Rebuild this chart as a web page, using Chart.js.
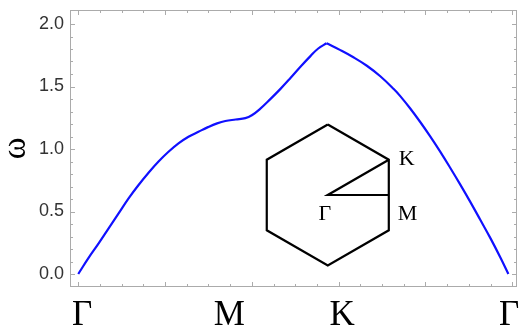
<!DOCTYPE html>
<html>
<head>
<meta charset="utf-8">
<script src="https://cdn.jsdelivr.net/npm/chart.js@4.4.1/dist/chart.umd.min.js"></script>
<style>
  html, body { margin: 0; padding: 0; background: #fff; }
  #chart { display: block; }
</style>
</head>
<body>
<canvas id="chart" width="520" height="330"></canvas>
<script>
// dispersion along Γ–M–K (k in units of 1/a)
const kGMK = [0, 0.23, 0.47, 0.70, 0.93, 1.16, 1.39, 1.62, 1.85, 2.08, 2.31, 2.54, 2.77, 2.99, 3.20, 3.39, 3.628, 3.85, 4.00, 4.19, 4.42, 4.66, 4.89, 5.12, 5.35, 5.53, 5.722];
const wGMK = [0, 0.125, 0.245, 0.365, 0.485, 0.605, 0.712, 0.81, 0.90, 0.978, 1.045, 1.098, 1.138, 1.175, 1.205, 1.224, 1.236, 1.247, 1.27, 1.321, 1.397, 1.481, 1.568, 1.658, 1.743, 1.804, 1.846];

// dispersion along K–Γ
const kKG = [5.722, 6.04, 6.34, 6.65, 6.96, 7.27, 7.42, 7.65, 7.88, 8.11, 8.34, 8.57, 8.80, 9.03, 9.26, 9.50, 9.73, 9.911];
const wKG = [1.846, 1.791, 1.734, 1.666, 1.582, 1.48, 1.423, 1.324, 1.216, 1.101, 0.979, 0.85, 0.717, 0.579, 0.436, 0.285, 0.13, 0];

// high-symmetry labels under the axis
const pathLabels = ['Γ', 'M', 'K', 'Γ'];
const pathLabelK = [0.09, 3.48, 6.08, 9.93];

const omegaTicks = [0, 0.5, 1, 1.5, 2];

// Brillouin zone sketch, in the same k / ω coordinates
const bzHexK = [5.75, 7.156, 7.156, 5.75, 4.344, 4.344, 5.75];
const bzHexW = [1.196, 0.914, 0.35, 0.068, 0.35, 0.914, 1.196];
const bzPathK = [7.156, 5.75, 7.156];
const bzPathW = [0.914, 0.632, 0.632];
const bzLabels = ['K', 'Γ', 'M'];

const toPoints = (xs, ys) => xs.map((x, i) => ({ x, y: ys[i] }));

// Mathematica-style frame with inward ticks on all four sides
const frameTicks = {
  id: 'frameTicks',
  beforeDatasetsDraw(chart) {
    const { ctx, chartArea: a, scales: { x, y } } = chart;
    ctx.save();
    ctx.strokeStyle = '#ababab';
    ctx.lineWidth = 1;
    ctx.strokeRect(a.left + 0.5, a.top + 0.5, a.right - a.left - 1, a.bottom - a.top - 1);
    ctx.beginPath();
    for (let i = 0; i <= 20; i++) {
      const px = Math.round(x.getPixelForValue(i * 0.5)) + 0.5;
      const len = i % 4 === 0 ? 5 : 3;
      ctx.moveTo(px, a.bottom); ctx.lineTo(px, a.bottom - len);
      ctx.moveTo(px, a.top); ctx.lineTo(px, a.top + len);
    }
    for (let i = 0; i <= 21; i++) {
      const py = Math.round(y.getPixelForValue(i * 0.1)) + 0.5;
      if (py < a.top + 2) continue;
      const len = i % 5 === 0 ? 5 : 3;
      ctx.moveTo(a.left, py); ctx.lineTo(a.left + len, py);
      ctx.moveTo(a.right, py); ctx.lineTo(a.right - len, py);
    }
    ctx.stroke();
    ctx.restore();
  }
};

// K, Γ, M next to the inset path points
const bzText = {
  id: 'bzText',
  afterDatasetsDraw(chart) {
    const { ctx, scales: { x, y } } = chart;
    const place = [
      { dx: 10, dy: 5, align: 'left' },
      { dx: -3, dy: 25, align: 'center' },
      { dx: 9, dy: 25, align: 'left' }
    ];
    ctx.save();
    ctx.fillStyle = '#000';
    ctx.font = '22px "Liberation Serif"';
    ctx.textBaseline = 'alphabetic';
    bzLabels.forEach((t, i) => {
      ctx.textAlign = place[i].align;
      ctx.fillText(t, x.getPixelForValue(bzPathK[i]) + place[i].dx, y.getPixelForValue(bzPathW[i]) + place[i].dy);
    });
    ctx.restore();
  }
};

const bandLine = {
  showLine: true,
  borderColor: '#1010ff',
  borderWidth: 2.2,
  pointRadius: 0,
  tension: 0.4
};

const bzLine = {
  showLine: true,
  borderColor: '#000',
  borderWidth: 2.2,
  borderJoinStyle: 'miter',
  pointRadius: 0
};

new Chart(document.getElementById('chart'), {
  type: 'scatter',
  data: {
    datasets: [
      { ...bandLine, data: toPoints(kGMK, wGMK) },
      { ...bandLine, data: toPoints(kKG, wKG) },
      { ...bzLine, data: toPoints(bzHexK, bzHexW) },
      { ...bzLine, data: toPoints(bzPathK, bzPathW) }
    ]
  },
  options: {
    responsive: false,
    animation: false,
    devicePixelRatio: 1,
    layout: { padding: { top: 10, right: 3, left: 0, bottom: 0 } },
    plugins: {
      legend: { display: false },
      tooltip: { enabled: false }
    },
    scales: {
      x: {
        type: 'linear',
        min: -0.19,
        max: 10.11,
        afterBuildTicks: s => { s.ticks = pathLabelK.map(v => ({ value: v })); },
        afterFit: s => { s.height = 43; s.paddingLeft = 0; s.paddingRight = 0; },
        ticks: {
          callback: (v, i) => pathLabels[i],
          font: { family: 'Liberation Serif', size: 35 },
          color: '#000',
          maxRotation: 0,
          autoSkip: false,
          padding: 8
        },
        grid: { display: false, drawTicks: false },
        border: { display: false }
      },
      y: {
        min: -0.104,
        max: 2.112,
        afterBuildTicks: s => { s.ticks = omegaTicks.map(v => ({ value: v })); },
        afterFit: s => { s.width = 70; s.paddingTop = 0; s.paddingBottom = 0; },
        ticks: {
          callback: v => v.toFixed(1),
          font: { family: 'Liberation Sans', size: 18 },
          color: '#333',
          padding: 6
        },
        grid: { display: false, drawTicks: false },
        border: { display: false },
        title: {
          display: true,
          text: 'ω',
          font: { family: 'Liberation Serif', size: 33, lineHeight: 1 },
          color: '#000',
          padding: 0
        }
      }
    }
  },
  plugins: [frameTicks, bzText]
});
</script>
</body>
</html>
